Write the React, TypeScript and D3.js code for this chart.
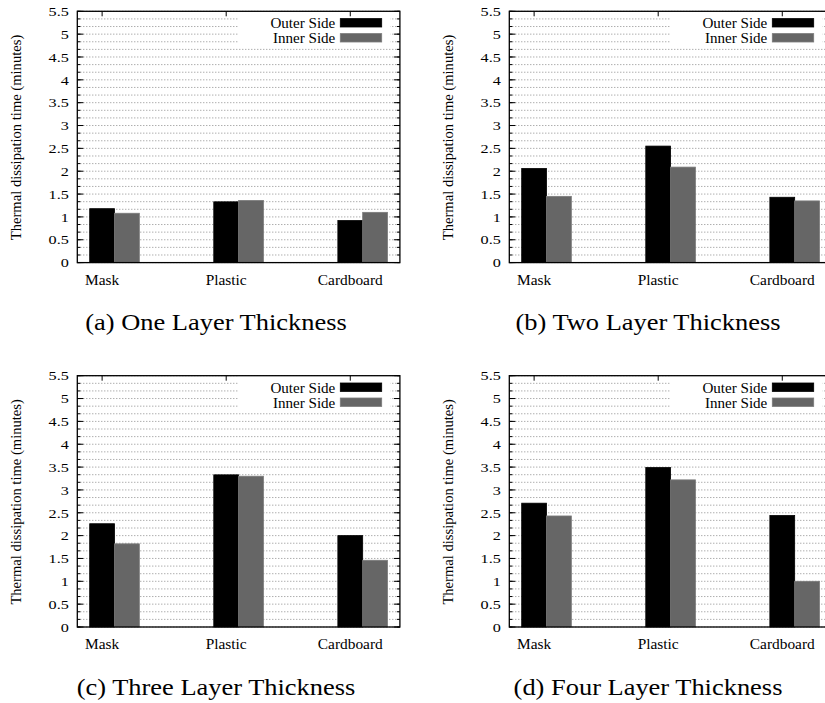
import React from 'react';
import * as d3 from 'd3';

const categories = ['Mask', 'Plastic', 'Cardboard'];
const seriesNames = ['Outer Side', 'Inner Side'];
const seriesColors = ['#000000', '#666666'];
const panelTitles = [
  '(a) One Layer Thickness',
  '(b) Two Layer Thickness',
  '(c) Three Layer Thickness',
  '(d) Four Layer Thickness',
];
const outerOne = [1.18, 1.33, 0.92];
const innerOne = [1.08, 1.36, 1.1];
const outerTwo = [2.06, 2.55, 1.43];
const innerTwo = [1.45, 2.09, 1.35];
const outerThree = [2.26, 3.33, 2.0];
const innerThree = [1.82, 3.3, 1.46];
const outerFour = [2.71, 3.49, 2.44];
const innerFour = [2.43, 3.22, 1.0];
const yTickValues = [0, 0.5, 1, 1.5, 2, 2.5, 3, 3.5, 4, 4.5, 5, 5.5];
const yTickLabels = ['0', '0.5', '1', '1.5', '2', '2.5', '3', '3.5', '4', '4.5', '5', '5.5'];

const panelsData = [
  [outerOne, innerOne],
  [outerTwo, innerTwo],
  [outerThree, innerThree],
  [outerFour, innerFour],
];

const FONT = "'Liberation Serif', 'Times New Roman', serif";
const W = 322.6;
const H = 251.3;
const lefts = [77.3, 509.3, 77.3, 509.3];
const tops = [11.3, 11.3, 375.7, 375.7];
const titleX = [216, 648, 216, 648];
const titleY = [330, 330, 694.5, 694.5];

function Panel({ idx }: { idx: number }) {
  const data = panelsData[idx];
  const x = d3.scaleLinear().domain([-0.2, 2.4]).range([0, W]);
  const y = d3.scaleLinear().domain([0, 5.5]).range([H, 0]);
  const bw = x(0.2) - x(0);
  const minor = d3.range(0, 5.5 + 1e-9, 0.5 / 3);
  return (
    <g transform={`translate(${lefts[idx]},${tops[idx]})`}>
      {minor.map((v, i) => (
        <line key={'g' + i} x1={0} x2={W} y1={y(v)} y2={y(v)} stroke="#7f7f7f" strokeWidth={0.9} strokeDasharray="1 2" />
      ))}
      <rect x={161} y={0} width={152} height={34} fill="#fff" />
      {minor.map((v, i) => (
        <g key={'mt' + i}>
          <line x1={0} x2={3} y1={y(v)} y2={y(v)} stroke="#000" strokeWidth={1} />
          <line x1={W - 3} x2={W} y1={y(v)} y2={y(v)} stroke="#000" strokeWidth={1} />
        </g>
      ))}
      {yTickValues.map((v, i) => (
        <g key={'yt' + i}>
          <line x1={0} x2={6} y1={y(v)} y2={y(v)} stroke="#000" strokeWidth={1} />
          <line x1={W - 6} x2={W} y1={y(v)} y2={y(v)} stroke="#000" strokeWidth={1} />
          <text
            transform={`translate(-8.5,${y(v)}) scale(1.2,1)`}
            textAnchor="end"
            dy="0.35em"
            fontSize={13.5}
            fontFamily={FONT}
            fill="#000"
          >
            {yTickLabels[i]}
          </text>
        </g>
      ))}
      {categories.map((c, i) => (
        <g key={'xt' + i}>
          <line x1={x(i)} x2={x(i)} y1={0} y2={5} stroke="#000" strokeWidth={1} />
          <line x1={x(i)} x2={x(i)} y1={H} y2={H - 5} stroke="#000" strokeWidth={1} />
          <text
            transform={`translate(${x(i)},${H + 22}) scale(1.1,1)`}
            textAnchor="middle"
            fontSize={14}
            fontFamily={FONT}
            fill="#000"
          >
            {c}
          </text>
        </g>
      ))}
      {data.map((series, s) =>
        series.map((v, i) => (
          <rect
            key={'b' + s + '-' + i}
            x={x(i + s * 0.2) - bw / 2}
            y={y(v)}
            width={bw}
            height={H - y(v)}
            fill={seriesColors[s]}
            stroke={s === 0 ? '#000' : '#7a7a7a'}
            strokeWidth={0.8}
          />
        ))
      )}
      {seriesNames.map((n, s) => (
        <g key={'l' + s}>
          <text
            transform={`translate(258,${16.8 + s * 15}) scale(1.04,1)`}
            textAnchor="end"
            fontSize={14.5}
            fontFamily={FONT}
            fill="#000"
          >
            {n}
          </text>
          <rect x={263} y={7.3 + s * 15} width={41.4} height={8.4} fill={seriesColors[s]} stroke={s === 0 ? '#000' : '#7a7a7a'} strokeWidth={0.8} />
        </g>
      ))}
      <rect x={0} y={0} width={W} height={H} fill="none" stroke="#000" strokeWidth={1.3} />
      <text
        transform={`translate(${20.7 - lefts[idx] + (idx % 2 === 1 ? 432 : 0)},${H / 2 + 0.5}) rotate(-90)`}
        textAnchor="middle"
        fontSize={14.6}
        fontFamily={FONT}
        fill="#000"
      >
        Thermal dissipation time (minutes)
      </text>
    </g>
  );
}

export default function App() {
  return (
    <svg
      width={825}
      height={703}
      style={{ position: 'absolute', left: 0, top: 0, background: '#fff' }}
    >
      <rect x={0} y={0} width={825} height={703} fill="#fff" />
      {[0, 1, 2, 3].map((i) => (
        <Panel key={i} idx={i} />
      ))}
      {panelTitles.map((t, i) => (
        <text
          key={'t' + i}
          transform={`translate(${titleX[i]},${titleY[i]}) scale(1.17,1)`}
          textAnchor="middle"
          fontSize={22.6}
          fontFamily={FONT}
          fill="#000"
        >
          {t}
        </text>
      ))}
    </svg>
  );
}
